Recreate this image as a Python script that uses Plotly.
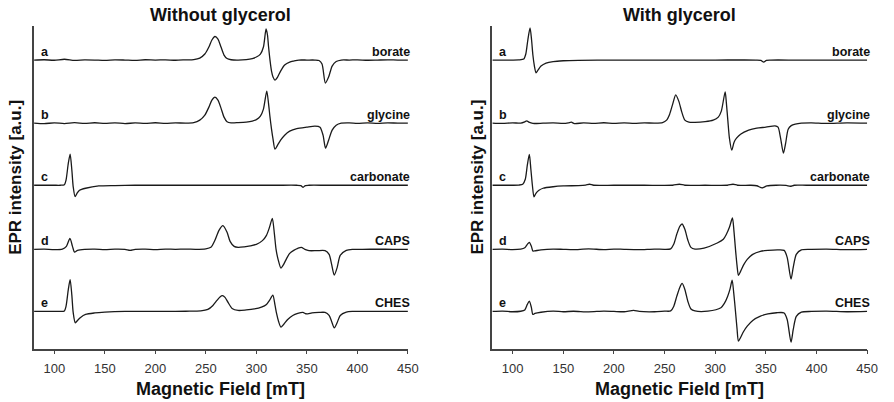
import plotly.graph_objects as go

# ---------------- data ----------------
# Field in mT, intensity in arbitrary units (relative to each trace's own baseline)
panel_titles = ["Without glycerol", "With glycerol"]
trace_letters = ["a", "b", "c", "d", "e"]
buffer_names = ["borate", "glycine", "carbonate", "CAPS", "CHES"]
trace_offsets = [288, 225, 163, 99, 37]
x_ticks = [100, 150, 200, 250, 300, 350, 400, 450]

# ---- Without glycerol ----
wo_borate_field = [80, 90, 100, 110, 120, 130, 140, 150, 160, 170, 180, 190, 200, 210, 220, 230, 238, 244, 249, 253, 256, 259, 262, 265, 268, 271, 275, 282, 290, 296, 300, 304, 307, 309.6, 311, 312, 313.5, 315, 316.5, 318.4, 321, 324, 328, 333, 337, 342, 350, 358, 362, 365, 368.3, 371.5, 375, 379, 384, 392, 400, 410, 420, 430, 440, 450]
wo_borate_int = [0, 0.3, -0.2, 0.8, -0.3, 0.2, 0, -0.4, 0.2, 0, -0.3, 0.3, 0, 0.2, -0.2, 0.2, 0.5, 2, 6, 13, 20, 23.5, 21, 13, 5, 1.5, 0.3, 0, 0.5, 1.5, 3, 6, 13, 31, 25, 14, 0, -11, -17, -20, -17, -11, -5, -2, -1, 0, 0, 0, -0.5, -4, -23, -17, -6, -1.5, 0, 0, 0.2, -0.2, 0, 0.2, 0, 0]

wo_glycine_field = [80, 90, 100, 110, 120, 130, 140, 150, 160, 170, 180, 190, 200, 210, 220, 230, 238, 244, 249, 253, 256, 259, 262, 265, 268, 271, 275, 282, 290, 296, 300, 304, 307, 310.3, 312, 313.5, 315, 316.5, 318.4, 321, 324, 328, 333, 340, 350, 358, 363, 366, 368.5, 371.5, 375, 379, 384, 392, 400, 410, 420, 430, 440, 450]
wo_glycine_int = [0, -0.5, 0.3, -0.4, 0.5, -0.3, 0.4, -0.2, 0.3, -0.4, 0.2, -0.3, 0.4, -0.2, 0.3, 0, 0.5, 3, 8, 16, 23, 26, 23, 15, 6, 1.5, 0.3, 0.5, 1, 2, 3.5, 7, 14, 32, 20, 6, -6, -16, -26, -22, -17, -12, -8, -5.5, -4, -3, -4, -12, -25, -17, -7, -2, 0, 0.3, -0.3, 0.2, -0.2, 0.3, 0, 0]

wo_carbonate_field = [80, 90, 100, 106, 110, 111.6, 113.9, 115.7, 117.4, 118.7, 120.6, 122.5, 125, 131, 144, 160, 180, 200, 230, 260, 290, 320, 340, 344, 346.3, 348.5, 352, 370, 400, 430, 450]
wo_carbonate_int = [0, 0, 0, 0, 0.5, 5, 22, 31, 15, -1.3, -11.3, -8, -5, -3, -0.7, -0.3, 0, 0, 0, 0, 0, 0, 0, -0.3, -2, -0.3, 0, 0, 0, 0, 0]

wo_caps_field = [80, 90, 100, 108, 112, 115.5, 118, 120, 123, 130, 140, 150, 160, 170, 175, 180, 190, 200, 210, 220, 230, 240, 250, 255, 259, 263, 266.9, 271, 274, 278, 282, 288, 294, 300, 306, 310, 313, 315.8, 317.8, 319.5, 321.5, 324.3, 327, 330, 333, 337, 341, 344.5, 348, 352, 360, 368, 372, 374.5, 377.1, 380, 383, 389, 395, 405, 420, 435, 450]
wo_caps_int = [0, 0.2, -0.2, 0.3, 3, 11, 3, -2.7, -1, 0, 0.3, -0.3, 0.2, 0, -1, 0, 0.2, -0.2, 0.3, 0, 0.3, 0, 0.5, 2, 9, 19, 23.7, 17, 8, 3, 2, 2.5, 3.5, 5, 8.7, 14, 22, 31, 16, 0, -10, -18.7, -15, -9, -4, -1, 1, 2, 0, -1.3, -1.3, -1.3, -5, -15, -25.7, -18, -6, -1, 0, 0, 0.2, 0, 0]

wo_ches_field = [80, 90, 100, 106, 110, 111.6, 113.9, 115.7, 117.4, 118.7, 120.8, 123, 126, 131, 140, 150, 170, 190, 210, 230, 245, 252, 257, 261, 264, 266.5, 269, 272, 276, 282, 290, 298, 305, 310, 313, 316.3, 318.5, 320, 322, 324.3, 327, 331, 336, 341, 346, 349, 351, 355, 362, 368, 372, 374.5, 377.1, 380, 383, 389, 395, 410, 430, 450]
wo_ches_int = [0, 0, 0, 0, 0.5, 5, 22, 31.7, 16, -1, -11.3, -9, -6, -3, -1.5, -0.7, 0, 0, 0, 0.2, 0.5, 2, 6, 11, 14.5, 15.7, 14, 9, 3, 1, 1.5, 2.5, 4.3, 7, 11, 16.3, 6, -2, -10, -15.7, -13, -8, -4, -2, -1, -2.3, -2.5, -1.5, -1, -1, -4, -10, -16.3, -11, -4, -0.7, 0, 0, 0, 0]

# ---- With glycerol ----
w_borate_field = [80, 90, 100, 106, 111, 113, 115, 117.2, 118.7, 120, 121.5, 123.1, 125, 128, 133, 140, 150, 165, 200, 250, 300, 340, 345, 347.8, 350.5, 355, 380, 420, 450]
w_borate_int = [0, 0, 0, 0.2, 1, 6, 20, 32, 20, 5, -6, -12.7, -10, -6, -3, -1.5, -0.7, -0.3, 0, 0, 0, 0, -0.3, -2, -0.3, 0, 0, 0, 0]

w_glycine_field = [80, 90, 100, 108, 112, 114, 116, 120, 130, 140, 150, 155, 158, 161, 170, 180, 190, 200, 210, 220, 230, 240, 248, 252, 255, 258, 261, 264, 267, 270, 274, 280, 290, 298, 303, 306, 309.8, 311, 312.5, 314, 316.3, 318.6, 321, 325, 333, 341, 350, 359, 362, 364.5, 367.3, 369.5, 372, 375, 379, 385, 395, 410, 430, 450]
w_glycine_int = [0, -0.3, 0.3, 0, 1.3, 2.3, 1, -0.3, 0, 0.3, -0.3, 0.3, 1, -0.5, 0.3, -0.3, 0.4, -0.3, 0.3, -0.2, 0.3, 0, 0.5, 3, 9, 19, 28.3, 22, 11, 3, 1, 0.8, 1.5, 3, 6, 12, 31.3, 20, 2, -15, -27, -19, -15, -11, -7, -5, -4, -2.7, -4, -15, -30, -20, -6, -2.5, -1, 0, 0.3, -0.3, 0.3, 0]

w_carbonate_field = [80, 90, 100, 106, 110, 112.5, 114.5, 116.5, 118, 119.5, 121.1, 123, 126, 130, 140, 150, 165, 172, 176, 180, 200, 230, 258, 264.7, 270, 290, 312, 317.6, 322, 335, 341, 346.3, 351, 360, 370, 374, 378, 390, 420, 450]
w_carbonate_int = [0, 0, 0, 0.2, 1, 6, 20, 30.7, 16, 0, -11.7, -8, -5, -3, -1.5, -0.7, -0.3, 0.2, 1, 0, 0, 0, 0, 1, 0, 0, 0, 1, 0, 0, -0.5, -2.7, -0.7, 0, -0.2, -1, 0, 0, 0, 0]

w_caps_field = [80, 90, 100, 108, 112, 114.5, 116.5, 118.5, 120, 122, 128, 140, 150, 160, 175, 190, 200, 210, 225, 240, 250, 256, 259, 262, 265, 267.3, 270, 273, 276, 280, 289, 302, 308, 311, 314, 317, 318.5, 320, 321.5, 322.9, 325, 328, 331.6, 337, 344.6, 352, 362, 368, 371, 374.8, 377, 380, 385, 395, 410, 430, 450]
w_caps_int = [0, 0.2, -0.3, 0.2, 1.5, 5, 7, 3, -1.7, -1.5, -0.5, 0.3, 0, -0.3, 0.5, -0.3, 0.3, 0, -0.3, 0.3, 0, 0.5, 5, 15, 23, 25.3, 20, 9, 2, 0.3, 1.3, 6.3, 10, 15, 22, 31.3, 18, 0, -16, -26, -22, -15.5, -10, -5, -2, -1, -0.5, -1, -8, -29.7, -18, -5, -0.5, 0, 0.3, -0.3, 0]

w_ches_field = [80, 90, 100, 108, 112, 114.5, 116.5, 118.5, 120, 122, 128, 140, 150, 160, 175, 190, 200, 210, 219.5, 225, 240, 250, 256, 259, 262, 265, 267.3, 270, 273, 276, 280, 292.7, 305.6, 309, 312.2, 314.5, 316.7, 318.3, 320, 321.5, 322.9, 325, 328, 331.6, 337, 344.6, 352, 360.6, 368, 371, 374.8, 377, 380, 385, 395, 410, 430, 450]
w_ches_int = [0, 0.3, -0.3, 0.2, 1.5, 7, 10.3, 4, -3, -2, -0.8, 0.3, -0.3, 0.2, -0.4, 0.3, 0, -0.3, 1, 0, -0.3, 0.3, 0.5, 5, 15, 24, 28, 22, 10, 2.5, 0.5, 0.3, 3.7, 8, 15, 22, 31.3, 18, 0, -17, -29.7, -26, -20, -14.7, -9, -4.7, -2.5, -1.3, -1.5, -8, -30.7, -18, -5, -0.7, 0, 0.3, -0.3, 0]

panel_fields = [
    [wo_borate_field, wo_glycine_field, wo_carbonate_field, wo_caps_field, wo_ches_field],
    [w_borate_field, w_glycine_field, w_carbonate_field, w_caps_field, w_ches_field],
]
panel_ints = [
    [wo_borate_int, wo_glycine_int, wo_carbonate_int, wo_caps_int, wo_ches_int],
    [w_borate_int, w_glycine_int, w_carbonate_int, w_caps_int, w_ches_int],
]

# ---------------- figure ----------------
FONT = "Arial, Liberation Sans, sans-serif"
W, H = 894, 402
x_domains = [[34.5 / W, 413 / W], [498.5 / W, 878 / W]]
y_domain = [(H - 348.5) / H, (H - 26) / H]

fig = go.Figure()
annotations = []
for p in range(2):
    xa = "x" if p == 0 else "x2"
    ya = "y" if p == 0 else "y2"
    for i in range(5):
        ys = [trace_offsets[i] + v for v in panel_ints[p][i]]
        fig.add_trace(go.Scatter(
            x=panel_fields[p][i], y=ys, mode="lines",
            line=dict(color="#1a1a1a", width=1.3, shape="spline", smoothing=0.7),
            xaxis=xa, yaxis=ya, showlegend=False, hoverinfo="skip"))
        annotations.append(dict(
            x=85, y=trace_offsets[i] + 8, xref=xa, yref=ya, text="<b>" + trace_letters[i] + "</b>",
            showarrow=False, xanchor="left", yanchor="middle",
            font=dict(family=FONT, size=12.5, color="#111")))
        annotations.append(dict(
            x=449.5, y=trace_offsets[i] + 8, xref=xa, yref=ya, text="<b>" + buffer_names[i] + "</b>",
            showarrow=False, xanchor="right", yanchor="middle", xshift=5,
            font=dict(family=FONT, size=12.5, color="#111")))
    cxp = 223 if p == 0 else 688
    annotations.append(dict(
        x=cxp / W, y=(H - 15) / H, xref="paper", yref="paper",
        text="<b>" + panel_titles[p] + "</b>", showarrow=False,
        xanchor="center", yanchor="middle", font=dict(family=FONT, size=18, color="#111")))
    annotations.append(dict(
        x=cxp / W, y=(H - 389) / H, xref="paper", yref="paper",
        text="<b>Magnetic Field [mT]</b>", showarrow=False,
        xanchor="center", yanchor="middle", font=dict(family=FONT, size=18, color="#111")))
    annotations.append(dict(
        x=(15 if p == 0 else 482.5) / W, y=(H - 177) / H, xref="paper", yref="paper",
        text="<b>EPR intensity [a.u.]</b>", showarrow=False, textangle=-90,
        xanchor="center", yanchor="middle", font=dict(family=FONT, size=17, color="#111")))

axis_common = dict(showgrid=False, zeroline=False, showline=True, linecolor="#444", linewidth=1.5)
xaxis_cfg = dict(range=[80, 450], tickvals=x_ticks, ticks="outside", ticklen=4, tickwidth=1.2,
                 tickcolor="#444", tickfont=dict(family=FONT, size=13, color="#333"),
                 ticklabelstandoff=3, **axis_common)
yaxis_cfg = dict(range=[0, 322], showticklabels=False, ticks="", **axis_common)

fig.update_layout(
    width=W, height=H, margin=dict(l=0, r=0, t=0, b=0),
    paper_bgcolor="white", plot_bgcolor="white",
    xaxis=dict(domain=x_domains[0], anchor="y", **xaxis_cfg),
    xaxis2=dict(domain=x_domains[1], anchor="y2", **xaxis_cfg),
    yaxis=dict(domain=y_domain, anchor="x", **yaxis_cfg),
    yaxis2=dict(domain=y_domain, anchor="x2", **yaxis_cfg),
    annotations=annotations,
)

fig.write_html("out.html", config={"displayModeBar": False},
               post_script="document.body.style.margin='0';document.body.style.overflow='hidden';")
